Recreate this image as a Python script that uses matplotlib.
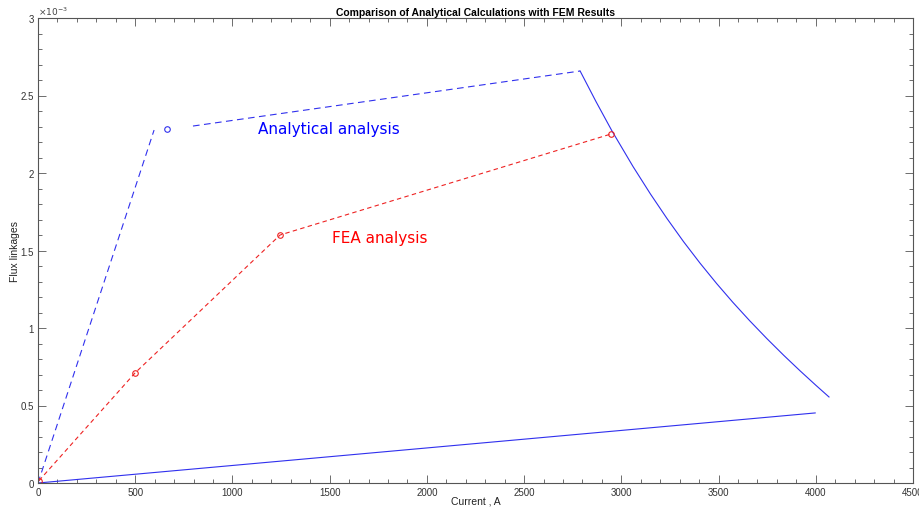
import matplotlib
matplotlib.use("Agg")
import matplotlib.pyplot as plt
from matplotlib.ticker import MultipleLocator, FuncFormatter

plt.rcParams['font.family'] = ['Liberation Sans', 'DejaVu Sans']

# Analytical model: linear rise, saturated region, then demagnetisation curve
ana_rise_i = [0, 597]
ana_rise_psi = [0.0, 2.277e-3]
ana_mark_i = [664]
ana_mark_psi = [2.285e-3]
ana_sat_i = [797, 2788]
ana_sat_psi = [2.303e-3, 2.658e-3]
ana_curve_i = [2788, 2870, 2952, 3060, 3150, 3235, 3320, 3405, 3490,
               3574, 3660, 3749, 3835, 3919, 4000, 4068]
ana_curve_psi = [2.658e-3, 2.460e-3, 2.271e-3, 2.042e-3, 1.864e-3, 1.706e-3,
                 1.557e-3, 1.418e-3, 1.287e-3, 1.165e-3, 1.047e-3, 0.931e-3,
                 0.824e-3, 0.724e-3, 0.631e-3, 0.555e-3]
ana_base_i = [0, 3997]
ana_base_psi = [0.0, 0.452e-3]

# FEA results
fea_i = [5, 499, 1245, 2948]
fea_psi = [0.015e-3, 0.71e-3, 1.60e-3, 2.252e-3]

y_ticks = [0, 0.5e-3, 1e-3, 1.5e-3, 2e-3, 2.5e-3, 3e-3]

blue = '#3030ee'
red = '#ee2222'

fig = plt.figure(figsize=(9.19, 5.10), dpi=100)
ax = fig.add_axes([38 / 919, 26 / 510, 875 / 919, 465 / 510])

ax.plot(ana_rise_i, ana_rise_psi, '--', color=blue, lw=0.8, dashes=(6, 4))
ax.plot(ana_mark_i, ana_mark_psi, 'o', color=blue, ms=4, mfc='none', mew=0.8)
ax.plot(ana_sat_i, ana_sat_psi, '--', color=blue, lw=0.8, dashes=(6, 4))
ax.plot(ana_curve_i, ana_curve_psi, '-', color=blue, lw=0.8)
ax.plot(ana_base_i, ana_base_psi, '-', color=blue, lw=0.8)

ax.plot(fea_i, fea_psi, '--', color=red, lw=0.8, dashes=(4, 3),
        marker='o', ms=4, mfc='none', mew=0.8)

ax.text(1130, 2.285e-3, 'Analytical analysis', color='#0000ff', fontsize=11,
        family=['DejaVu Sans'], va='center')
ax.text(1510, 1.585e-3, 'FEA analysis', color='#ff0000', fontsize=11,
        family=['DejaVu Sans'], va='center')

ax.set_xlim(0, 4500)
ax.set_ylim(0, 3e-3)
ax.xaxis.set_major_locator(MultipleLocator(500))
ax.xaxis.set_minor_locator(MultipleLocator(100))
ax.set_yticks(y_ticks)
ax.yaxis.set_minor_locator(MultipleLocator(0.1e-3))
ax.yaxis.set_major_formatter(FuncFormatter(lambda v, p: f'{v * 1e3:g}'))

ax.text(0.0, 1.003, r'$\times10^{-3}$', transform=ax.transAxes,
        fontsize=6.5, color='#444444', ha='left', va='bottom')

spine_c = '#555555'
for s in ax.spines.values():
    s.set_color(spine_c)
    s.set_linewidth(0.8)
ax.tick_params(which='both', direction='in', top=True, right=True,
               colors=spine_c, labelcolor='#333333', labelsize=7, width=0.6)
ax.tick_params(which='major', length=6, pad=3)
ax.tick_params(which='minor', length=3)

ax.set_title('Comparison of Analytical Calculations with FEM Results',
             fontsize=7.5, fontweight='bold', pad=2.5)
ax.set_xlabel('Current , A', fontsize=7.5, color='#222222')
ax.set_ylabel('Flux linkages', fontsize=7.5, color='#222222')
ax.xaxis.set_label_coords(0.5, -(497 - 484) / 465)
ax.yaxis.set_label_coords((20 - 38) / 875, 0.5)

fig.savefig('out.png', dpi=100)
